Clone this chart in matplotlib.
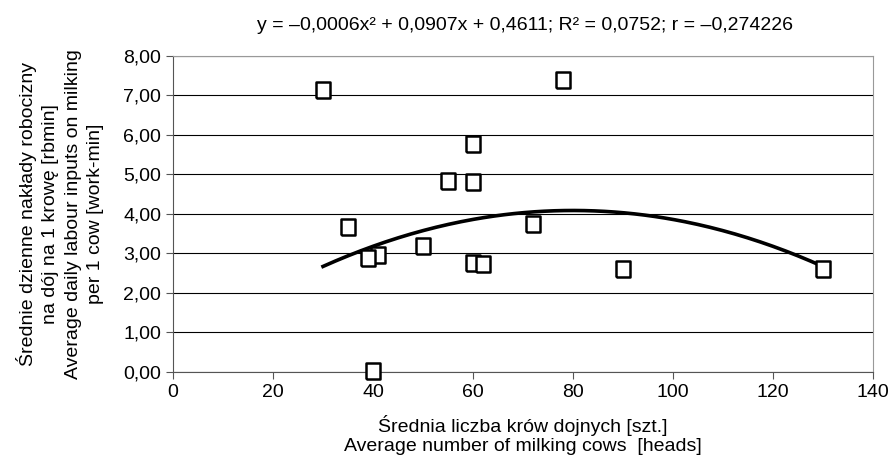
import numpy as np
import matplotlib
matplotlib.use('Agg')
from matplotlib import pyplot as plt
from matplotlib.ticker import FuncFormatter

plt.rcParams['font.family'] = ['Liberation Sans', 'DejaVu Sans']

# liczba krow (x) i naklady robocizny (y)
krowy = [30, 78, 60, 55, 60, 35, 72, 50, 41, 39, 60, 62, 90, 130, 40]
naklady = [7.15, 7.38, 5.78, 4.83, 4.80, 3.67, 3.75, 3.20, 2.97, 2.88, 2.75, 2.73, 2.60, 2.60, 0.02]
trend_wsp = [-0.000567, 0.0907, 0.4611]

tytul = 'y = –0,0006x² + 0,0907x + 0,4611; R² = 0,0752; r = –0,274226'
ylab = ('Średnie dzienne nakłady robocizny\nna dój na 1 krowę [rbmin]\n'
        'Average daily labour inputs on milking\nper 1 cow [work-min]')
xlab = 'Średnia liczba krów dojnych [szt.]\nAverage number of milking cows  [heads]'

fig = plt.figure(figsize=(8.9, 4.61), dpi=100)
ax = fig.add_axes([0.1944, 0.1931, 0.7865, 0.6855])

xs = np.linspace(min(krowy), max(krowy), 200)
ax.plot(xs, np.polyval(trend_wsp, xs), color='black', lw=2.6, zorder=2)

prostokat = [(-0.42, -0.5), (0.42, -0.5), (0.42, 0.5), (-0.42, 0.5), (-0.42, -0.5)]
ax.plot(krowy, naklady, ls='none', marker=prostokat, ms=12, mfc='white', mec='black',
        mew=1.8, zorder=3, clip_on=False)

ax.set_xlim(0, 140)
ax.set_ylim(0, 8)
ax.set_xticks(range(0, 141, 20))
ax.set_yticks(range(0, 9))
ax.yaxis.set_major_formatter(FuncFormatter(lambda v, p: f'{v:.2f}'.replace('.', ',')))
ax.grid(axis='y', color='black', lw=0.8)
ax.set_axisbelow(True)
for s in ['left', 'bottom']:
    ax.spines[s].set_color('#555555')
for s in ['top', 'right']:
    ax.spines[s].set_color('#999999')
ax.tick_params(labelsize=14, length=5, color='#555555')

fig.text(525 / 890, 1 - 26 / 461, tytul, fontsize=14, ha='center', va='center')
ax.set_ylabel(ylab, fontsize=14, labelpad=14, linespacing=1.4)
ax.set_xlabel(xlab, fontsize=14, labelpad=10, linespacing=1.15)

plt.savefig('out.png', dpi=100)
